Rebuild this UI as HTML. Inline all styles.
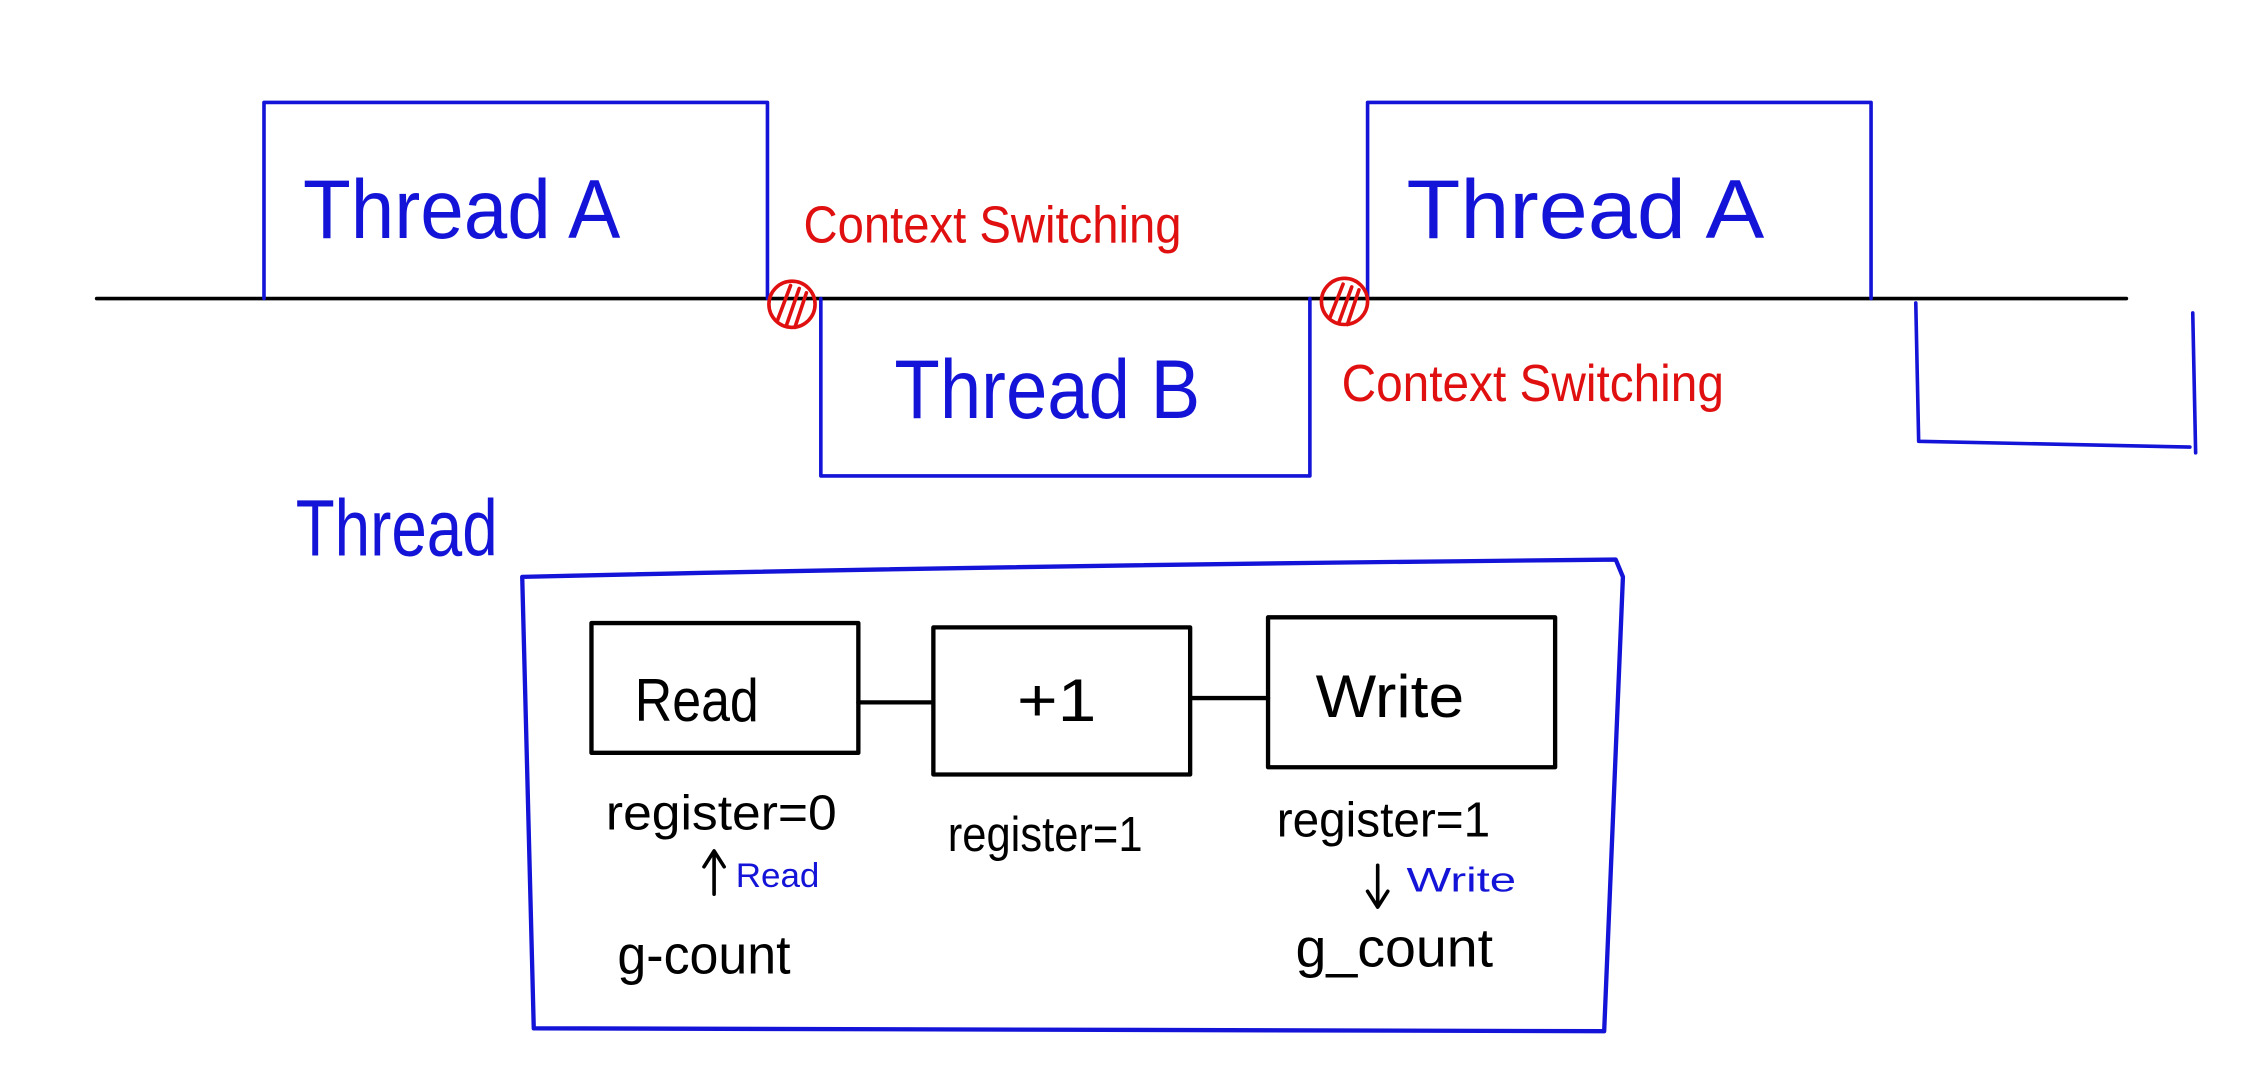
<!DOCTYPE html>
<html><head><meta charset="utf-8"><style>
html,body{margin:0;padding:0;background:#fff;width:2262px;height:1086px;overflow:hidden}
svg{display:block}
text{font-family:"Liberation Sans",sans-serif}
</style></head><body>
<svg width="2262" height="1086" viewBox="0 0 1568 753" preserveAspectRatio="none">
<rect width="1568" height="753" fill="#fff"/>
<g fill="none" stroke-linecap="round" stroke-linejoin="round">
<line x1="67" y1="207" x2="1474" y2="207" stroke="#000" stroke-width="2.5"/>
<polyline points="183,207 183,71 532,71 532,207" stroke="#1414d8" stroke-width="2.5"/>
<polyline points="569,207 569,330 908,330 908,207" stroke="#1414d8" stroke-width="2.5"/>
<polyline points="948,207 948,71 1297,71 1297,207" stroke="#1414d8" stroke-width="2.5"/>
<polyline points="1328,210 1330,306 1518,310" stroke="#1414d8" stroke-width="2.5"/>
<line x1="1520" y1="217" x2="1522" y2="314" stroke="#1414d8" stroke-width="2.5"/>
<circle cx="549" cy="211" r="16" stroke="#e01010" stroke-width="2.5"/>
<path d="M539,222 L548,198 M545,226 L554,200 M551,227 L559,203" stroke="#e01010" stroke-width="2.5"/>
<circle cx="932" cy="209" r="16" stroke="#e01010" stroke-width="2.5"/>
<path d="M922,220 L931,197 M928,224 L937,199 M934,225 L942,201" stroke="#e01010" stroke-width="2.5"/>
<path d="M362,400 Q700,392 1120,388 L1125,400 L1112,715 L370,713 L362,400" stroke="#1414d8" stroke-width="3"/>
<rect x="410" y="432" width="185" height="90" stroke="#000" stroke-width="3"/>
<rect x="647" y="435" width="178" height="102" stroke="#000" stroke-width="3"/>
<rect x="879" y="428" width="199" height="104" stroke="#000" stroke-width="3"/>
<line x1="595" y1="487" x2="647" y2="487" stroke="#000" stroke-width="3"/>
<line x1="825" y1="484" x2="879" y2="484" stroke="#000" stroke-width="3"/>
<path d="M495,620 L495,592 M488,601 L495,590 L502,601" stroke="#000" stroke-width="2.5"/>
<path d="M955,600 L955,627 M948,618 L955,629 L962,618" stroke="#000" stroke-width="2.5"/>
</g>
<g fill="#1414d8">
<text x="210" y="165" font-size="58" textLength="220" lengthAdjust="spacingAndGlyphs">Thread  A</text>
<text x="620" y="290" font-size="58" textLength="212" lengthAdjust="spacingAndGlyphs">Thread  B</text>
<text x="975" y="165" font-size="58" textLength="248" lengthAdjust="spacingAndGlyphs">Thread   A</text>
<text x="205" y="385" font-size="55" textLength="140" lengthAdjust="spacingAndGlyphs">Thread</text>
<text x="510" y="615" font-size="24" textLength="58" lengthAdjust="spacingAndGlyphs">Read</text>
<text x="975" y="618" font-size="24" textLength="76" lengthAdjust="spacingAndGlyphs">Write</text>
</g>
<g fill="#e01010">
<text x="557" y="168" font-size="36" textLength="262" lengthAdjust="spacingAndGlyphs">Context Switching</text>
<text x="930" y="278" font-size="36" textLength="265" lengthAdjust="spacingAndGlyphs">Context Switching</text>
</g>
<g fill="#000">
<text x="440" y="500" font-size="42" textLength="86" lengthAdjust="spacingAndGlyphs">Read</text>
<text x="705" y="500" font-size="42" textLength="55" lengthAdjust="spacingAndGlyphs">+1</text>
<text x="912" y="497" font-size="42" textLength="103" lengthAdjust="spacingAndGlyphs">Write</text>
<text x="420" y="575" font-size="34" textLength="160" lengthAdjust="spacingAndGlyphs">register=0</text>
<text x="657" y="590" font-size="34" textLength="135" lengthAdjust="spacingAndGlyphs">register=1</text>
<text x="885" y="580" font-size="34" textLength="148" lengthAdjust="spacingAndGlyphs">register=1</text>
<text x="428" y="675" font-size="38" textLength="120" lengthAdjust="spacingAndGlyphs">g-count</text>
<text x="898" y="670" font-size="38" textLength="137" lengthAdjust="spacingAndGlyphs">g_count</text>
</g>
</svg>
</body></html>
